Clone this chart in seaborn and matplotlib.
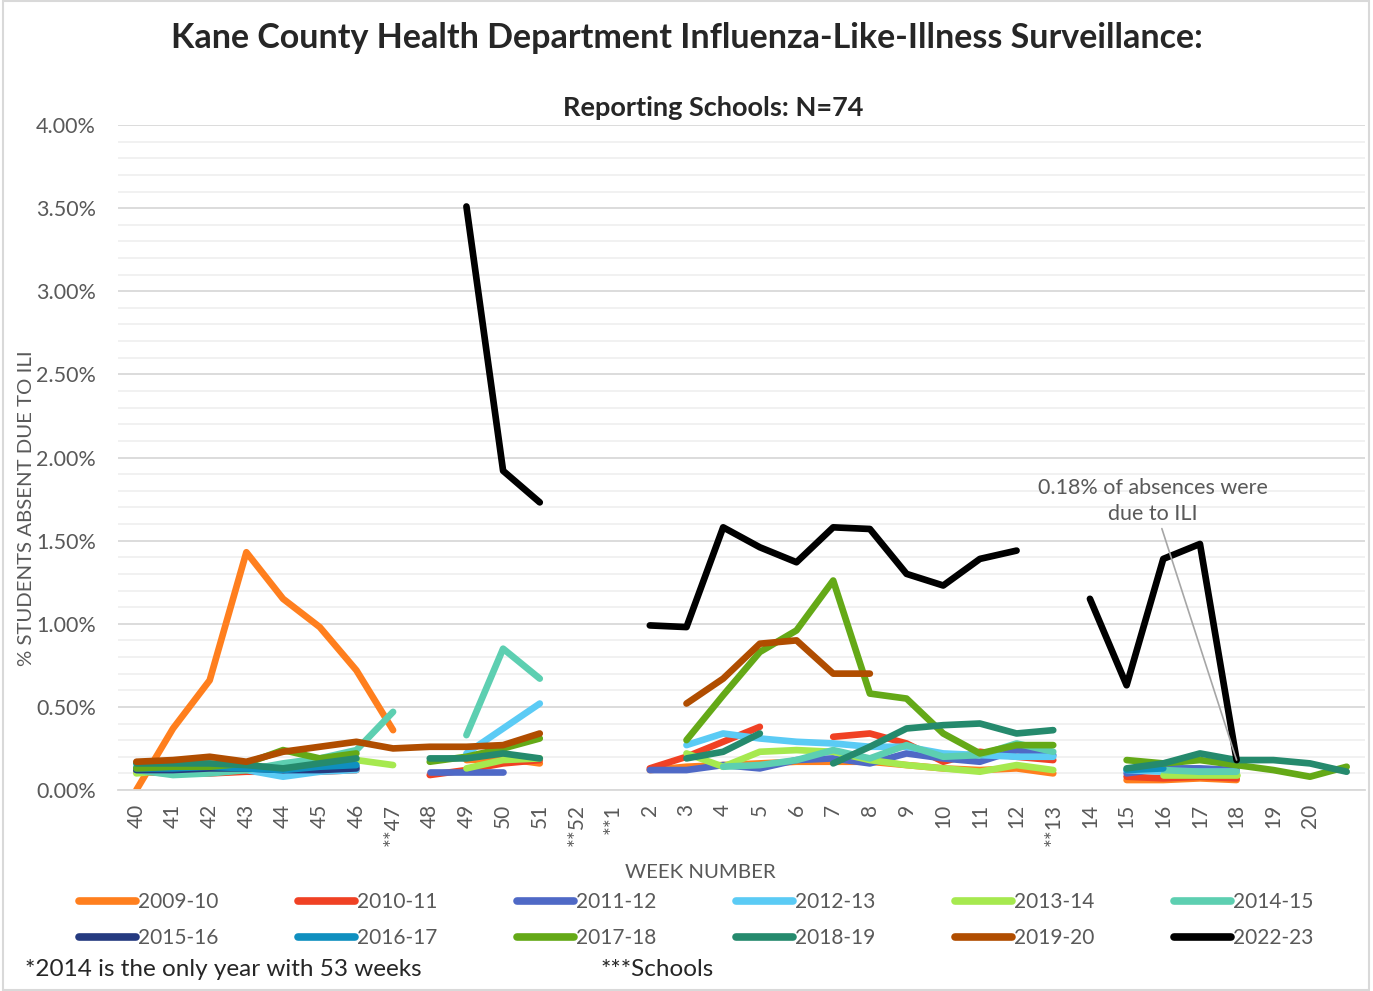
import numpy as np
import pandas as pd
import matplotlib.pyplot as plt
import seaborn as sns
from matplotlib.lines import Line2D
from matplotlib.patches import Rectangle
from matplotlib.ticker import MultipleLocator, FuncFormatter

n = np.nan

# week categories (last slot has an empty label)
weeks = ['40', '41', '42', '43', '44', '45', '46', '**47', '48', '49', '50', '51',
         '**52', '**1', '2', '3', '4', '5', '6', '7', '8', '9', '10', '11', '12',
         '**13', '14', '15', '16', '17', '18', '19', '20', '']

# % students absent due to ILI, one list per season (n = no data)
s2009_10 = [0.00, 0.37, 0.66, 1.43, 1.15, 0.98, 0.72, 0.36, n, 0.18, 0.19, 0.16,
            n, n, 0.12, 0.14, 0.15, 0.16, 0.17, 0.17, 0.17, 0.15, 0.13, 0.12, 0.13,
            0.10, n, 0.06, 0.06, 0.07, 0.06, n, n, n]
s2010_11 = [0.11, 0.10, 0.10, 0.11, 0.11, 0.11, 0.12, n, 0.09, 0.12, 0.16, 0.18,
            n, n, 0.13, 0.20, 0.29, 0.38, n, 0.32, 0.34, 0.28, 0.17, 0.23, 0.20,
            0.18, n, 0.08, 0.07, 0.08, 0.07, n, n, n]
s2011_12 = [0.13, 0.12, 0.12, 0.13, 0.14, 0.13, 0.14, n, 0.11, 0.11, 0.11, n,
            n, n, 0.12, 0.12, 0.15, 0.13, 0.18, 0.19, 0.16, 0.22, 0.19, 0.17, 0.24,
            0.21, n, 0.10, 0.13, 0.13, 0.12, n, n, n]
s2012_13 = [0.14, 0.12, 0.12, 0.12, 0.08, 0.11, 0.12, n, n, 0.22, 0.37, 0.52,
            n, n, n, 0.27, 0.34, 0.31, 0.29, 0.28, 0.26, 0.26, 0.22, 0.21, 0.20,
            0.20, n, 0.12, 0.11, 0.11, 0.11, n, n, n]
s2013_14 = [0.10, 0.12, 0.12, 0.13, 0.15, 0.17, 0.18, 0.15, n, 0.13, 0.18, 0.19,
            n, n, n, 0.22, 0.14, 0.23, 0.24, 0.23, 0.18, 0.15, 0.13, 0.11, 0.15,
            0.12, n, n, 0.09, 0.09, 0.09, n, n, n]
s2014_15 = [0.12, 0.09, 0.10, 0.12, 0.16, 0.19, 0.24, 0.47, n, 0.33, 0.85, 0.67,
            n, n, n, n, 0.14, 0.15, 0.18, 0.24, 0.19, 0.27, 0.20, 0.21, 0.28,
            0.23, n, n, 0.12, 0.11, 0.11, n, n, n]
s2015_16 = [0.12, 0.12, 0.13, 0.13, 0.12, 0.12, 0.13, n, n, n, n, n,
            n, n, n, n, n, n, n, n, n, n, n, n, n,
            n, n, n, n, n, n, n, n, n]
s2016_17 = [0.13, 0.13, 0.14, 0.13, 0.12, 0.14, 0.15, n, n, n, n, n,
            n, n, n, n, n, n, n, n, n, n, n, n, n,
            n, n, 0.12, 0.13, n, n, n, n, n]
s2017_18 = [0.13, 0.14, 0.14, 0.16, 0.24, 0.19, 0.22, n, 0.17, 0.20, 0.25, 0.31,
            n, n, n, 0.30, 0.57, 0.83, 0.96, 1.26, 0.58, 0.55, 0.34, 0.22, 0.27,
            0.27, n, 0.18, 0.16, 0.18, 0.15, 0.12, 0.08, 0.14]
s2018_19 = [0.16, 0.16, 0.16, 0.15, 0.13, 0.16, 0.19, n, 0.19, 0.19, 0.22, 0.19,
            n, n, n, 0.19, 0.23, 0.34, n, 0.16, 0.26, 0.37, 0.39, 0.40, 0.34,
            0.36, n, 0.13, 0.16, 0.22, 0.18, 0.18, 0.16, 0.11]
s2019_20 = [0.17, 0.18, 0.20, 0.17, 0.23, 0.26, 0.29, 0.25, 0.26, 0.26, 0.27, 0.34,
            n, n, n, 0.52, 0.67, 0.88, 0.90, 0.70, 0.70, n, n, n, n,
            n, n, n, n, n, n, n, n, n]
s2022_23 = [n, n, n, n, n, n, n, n, n, 3.51, 1.92, 1.73,
            n, n, 0.99, 0.98, 1.58, 1.46, 1.37, 1.58, 1.57, 1.30, 1.23, 1.39, 1.44,
            n, 1.15, 0.63, 1.39, 1.48, 0.18, n, n, n]

seasons = ['2009-10', '2010-11', '2011-12', '2012-13', '2013-14', '2014-15',
           '2015-16', '2016-17', '2017-18', '2018-19', '2019-20', '2022-23']
series = [s2009_10, s2010_11, s2011_12, s2012_13, s2013_14, s2014_15,
          s2015_16, s2016_17, s2017_18, s2018_19, s2019_20, s2022_23]
colors = ['#ff7f1e', '#f04124', '#4f69c6', '#5bcbf5', '#a6e94f', '#5dcfb1',
          '#253a80', '#0f8fbf', '#64a917', '#258a6d', '#b04d00', '#000000']

# long table, one "seg" per unbroken run so gaps stay open
rows = []
for name, vals in zip(seasons, series):
    seg = 0
    for i, v in enumerate(vals):
        if np.isnan(v):
            seg += 1
            continue
        rows.append({'pos': i, 'pct': v, 'season': name, 'seg': f'{name}_{seg}'})
df = pd.DataFrame(rows)

sns.set_style('white')
plt.rcParams['font.family'] = ['Lato', 'DejaVu Sans']

fig = plt.figure(figsize=(13.73, 9.91), dpi=100)
ax = fig.add_axes([118 / 1373, 1 - 790 / 991, (1365 - 118) / 1373, (790 - 125) / 991])

sns.lineplot(data=df, x='pos', y='pct', hue='season', units='seg', estimator=None,
             hue_order=seasons, palette=dict(zip(seasons, colors)), lw=4.8,
             legend=False, sort=True, ax=ax,
             solid_capstyle='round', solid_joinstyle='round')

ax.set_xlim(-0.5, len(weeks) - 0.5)
ax.set_ylim(0, 4.0)
ax.yaxis.set_major_locator(MultipleLocator(0.5))
ax.yaxis.set_minor_locator(MultipleLocator(0.1))
ax.yaxis.set_major_formatter(FuncFormatter(lambda v, p: f'{v:.2f}%'))
ax.grid(which='major', axis='y', color='#d9d9d9', lw=1.3)
ax.grid(which='minor', axis='y', color='#f0f0f0', lw=1.3)
ax.set_axisbelow(True)
ax.set_xticks(range(len(weeks)))
ax.set_xticklabels(weeks, rotation=90, fontsize=15, color='#595959')
ax.tick_params(axis='y', labelsize=15.5, labelcolor='#595959', length=0, pad=16)
ax.tick_params(axis='x', length=0, pad=10)
for s in ['top', 'right', 'left']:
    ax.spines[s].set_visible(False)
ax.spines['bottom'].set_color('#d9d9d9')
ax.spines['bottom'].set_linewidth(1.3)
ax.set_xlabel('')
ax.set_ylabel('')

ax.annotate('0.18% of absences were\ndue to ILI', xy=(weeks.index('18'), s2022_23[weeks.index('18')]),
            xytext=(27.72, 1.60), ha='center', va='bottom', fontsize=15.5, color='#595959',
            linespacing=1.35,
            arrowprops=dict(arrowstyle='-', color='#a6a6a6', lw=1.2, shrinkA=1, shrinkB=0))

fig.text(687 / 1373, 1 - 38 / 991, 'Kane County Health Department Influenza-Like-Illness Surveillance:',
         ha='center', va='center', fontsize=24.5, fontweight='bold')
fig.text(713 / 1373, 1 - 108 / 991, 'Reporting Schools: N=74',
         ha='center', va='center', fontsize=19.5, fontweight='bold')
fig.text(27 / 1373, 1 - 508 / 991, '% STUDENTS ABSENT DUE TO ILI', rotation=90,
         ha='center', va='center', fontsize=14.7, color='#595959')
fig.text(700 / 1373, 1 - 872 / 991, 'WEEK NUMBER', ha='center', va='center',
         fontsize=14.7, color='#595959')
fig.text(25 / 1373, 1 - 970 / 991, '*2014 is the only year with 53 weeks',
         ha='left', va='center', fontsize=17.5)
fig.text(601 / 1373, 1 - 970 / 991, '***Schools', ha='left', va='center', fontsize=17.5)

# legend fills column-wise, so interleave to read row by row
order = [i + r * 6 for i in range(6) for r in range(2)]
handles = [Line2D([0], [0], color=colors[i], lw=5.5, solid_capstyle='round') for i in order]
leg = fig.legend(handles, [seasons[i] for i in order], ncol=6, loc='center',
                 bbox_to_anchor=(0.507, 1 - 920 / 991), frameon=False, fontsize=15,
                 handlelength=2.75, handletextpad=0.1, columnspacing=3.8, labelspacing=0.78)
for t in leg.get_texts():
    t.set_color('#595959')

fig.patches.append(Rectangle((0.002, 0.001), 0.995, 0.998, transform=fig.transFigure,
                             fill=False, edgecolor='#d9d9d9', lw=1.5))

fig.savefig('out.png', dpi=100)
